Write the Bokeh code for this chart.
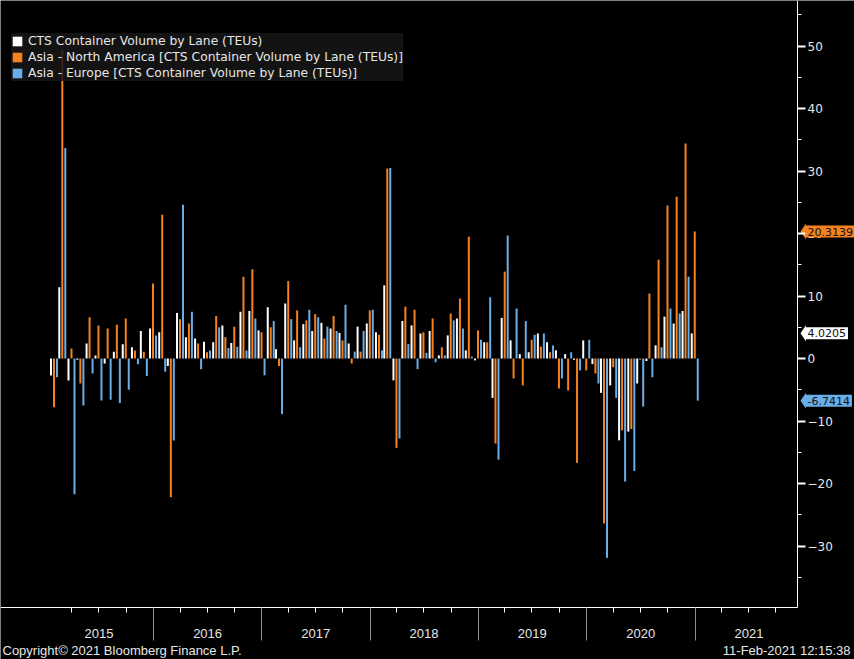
import pandas as pd
from bokeh.plotting import figure
from bokeh.models import (LinearAxis, FixedTicker, Legend, LegendItem, Label,
                          Range1d, ColumnDataSource, CustomJSTickFormatter)
from bokeh.transform import dodge
from bokeh.embed import file_html
from bokeh.resources import INLINE

# ---------------- data ----------------
months = list(pd.date_range("2015-01-01", periods=72, freq="MS") + pd.offsets.MonthEnd(0))

cts_total = [-2.7, 11.4, -3.5, -0.2, 2.4, 0.5, -0.8, 1.1, 2.3, 1.8, 4.4, 4.8,
             4.2, -1.2, 7.3, 3.4, 3.2, 2.7, 2.6, 5.3, 2.5, 7.5, 7.6, 4.5,
             8.2, 1.5, 8.8, 2.9, 5.5, 4.4, 5.7, 4.8, 4.1, 2.4, 5.1, 5.6,
             4.2, 11.7, -3.5, 6.0, 5.3, 4.0, 4.4, 0.5, 3.7, 6.4, 1.3, -0.3,
             2.6, -6.3, 6.5, 2.9, 0.7, 1.0, 4.0, 2.6, 1.3, 0.7, -0.2, 2.9,
             -0.9, -5.5, -4.3, -13.1, -11.7, -4.0, -0.4, 2.1, 6.7, 5.6, 7.6, 4.0205]

asia_na = [-7.8, 49.4, 1.6, -4.0, 6.6, 5.3, 4.8, 5.4, 6.4, 1.3, 1.1, 12.0,
           23.0, -22.2, 6.3, 5.6, 2.4, 1.0, 6.8, 3.4, 5.1, 13.1, 14.3, 4.2,
           5.0, -1.2, 12.4, 7.7, 6.1, 7.1, 3.2, 6.8, 2.9, -0.8, 1.1, 7.7,
           3.8, 30.4, -14.3, 8.3, 7.8, 4.2, 6.4, 1.8, 7.2, 9.6, 19.5, 4.5,
           2.6, -13.6, 13.9, -3.2, -4.3, 3.0, 1.9, 1.0, -4.8, -5.1, -16.7, -1.9,
           -2.4, -26.4, -1.4, -11.5, -11.3, -0.2, 10.4, 15.8, 24.5, 25.9, 34.4, 20.3139]

asia_eu = [-3.0, 33.7, -21.7, -7.5, -2.4, -6.7, -6.6, -7.1, -5.0, -0.9, -2.8, 3.7,
           -2.1, -13.1, 24.6, 7.5, -1.7, 1.3, 5.0, 1.7, 1.9, 1.3, 6.4, -2.7,
           6.0, -8.9, 6.3, 1.8, 7.8, 6.6, 5.1, 4.4, 8.6, 1.1, 4.4, 7.8,
           1.3, 30.5, -12.8, 2.3, -1.7, 0.9, -0.6, 0.5, 6.1, 4.8, 0.3, 3.0,
           9.8, -16.2, 19.7, 8.0, 6.0, 3.8, 4.0, 2.1, -3.2, 1.0, -1.9, 3.0,
           -4.0, -31.9, -6.3, -19.7, -18.0, -7.7, -3.0, 1.8, 8.0, 7.2, 13.1, -6.7414]

series_names = ["CTS Container Volume by Lane (TEUs)",
                "Asia - North America [CTS Container Volume by Lane (TEUs)]",
                "Asia - Europe [CTS Container Volume by Lane (TEUs)]"]

years = ["2015", "2016", "2017", "2018", "2019", "2020", "2021"]
y_ticks = [-30, -20, -10, 0, 10, 20, 30, 40, 50]
y_minor = [-35, -25, -15, -5, 5, 15, 25, 35, 45, 55]
copyright_text = "Copyright\u00a9 2021 Bloomberg Finance L.P."
stamp_text = "11-Feb-2021 12:15:38"

# ---------------- style / geometry ----------------
WHITE = "#ffffff"
ORANGE = "#f5821f"
BLUE = "#69aee9"
TEXT = "#e6e6e6"
W, H = 854, 659
DAY_MS = 86400000.0
PX = 365.25 * DAY_MS / 108.3      # time per screen pixel
UNIT_PX = 6.25                     # screen pixels per value unit


def ms(t):
    return pd.Timestamp(t).value / 1e6


x_start = ms("2015-01-01") - 44.6 * PX
x_end = x_start + W * PX
x_axis_pos = x_start + 797 * PX          # where the value axis sits
y_top = 358 / UNIT_PX
y_bottom = -(H - 358) / UNIT_PX
y_axis_pos = -(607 - 358) / UNIT_PX      # where the time axis sits

p = figure(width=W, height=H,
           x_range=Range1d(x_start, x_end), y_range=Range1d(y_bottom, y_top),
           output_backend="svg", toolbar_location=None,
           x_axis_location=None, y_axis_location=None, min_border=0)
p.background_fill_color = "black"
p.border_fill_color = "black"
p.outline_line_color = None
p.xgrid.visible = False
p.ygrid.visible = False

src = ColumnDataSource(dict(month=months, cts=cts_total, na=asia_na, eu=asia_eu))
bw = 2.0 * PX
off = 3.0 * PX
r_cts = p.vbar(x=dodge("month", -off), top="cts", bottom=0, width=bw,
               fill_color=WHITE, line_color=None, source=src)
r_na = p.vbar(x=dodge("month", 0.0), top="na", bottom=0, width=bw,
              fill_color=ORANGE, line_color=None, source=src)
r_eu = p.vbar(x=dodge("month", off), top="eu", bottom=0, width=bw,
              fill_color=BLUE, line_color=None, source=src)

# right value axis (inside the frame at a fixed place)
yax = LinearAxis(ticker=FixedTicker(ticks=y_ticks, minor_ticks=y_minor),
                 fixed_location=x_axis_pos, bounds=(y_axis_pos, y_top))
yax.axis_line_color = WHITE
yax.major_tick_line_color = WHITE
yax.major_tick_line_width = 2
yax.major_tick_out = 8
yax.major_tick_in = 0
yax.minor_tick_line_color = WHITE
yax.minor_tick_out = 4
yax.minor_tick_in = 0
yax.major_label_standoff = 2
yax.major_label_text_color = TEXT
yax.major_label_text_font = "DejaVu Sans"
yax.major_label_text_font_size = "12px"
p.add_layout(yax, "right")

# bottom time axis: year separators + quarter ticks
year_bounds = [ms(f"{y}-01-01") for y in years[1:]]
quarters = [ms(t) for t in pd.date_range("2015-04-01", "2021-10-01", freq="QS")
            if t.month != 1]
xax = LinearAxis(ticker=FixedTicker(ticks=year_bounds, minor_ticks=quarters),
                 formatter=CustomJSTickFormatter(code="return ''"),
                 fixed_location=y_axis_pos, bounds=(x_start, x_axis_pos))
xax.axis_line_color = WHITE
xax.major_tick_line_color = "#8c8c8c"
xax.major_tick_out = 33
xax.major_tick_in = 0
xax.minor_tick_line_color = WHITE
xax.minor_tick_out = 5
xax.minor_tick_in = 0
xax.major_label_standoff = 0
xax.major_label_text_font_size = "1px"
p.add_layout(xax, "below")

for y in years:
    p.add_layout(Label(x=ms(f"{y}-07-02"), y=-(633 - 358) / UNIT_PX, text=y,
                       text_align="center", text_baseline="middle",
                       text_color=TEXT, text_font="Liberation Sans",
                       text_font_size="13px"))

p.add_layout(Label(x=2, x_units="screen", y=-(650 - 358) / UNIT_PX, text=copyright_text,
                   text_align="left", text_baseline="middle",
                   text_color=TEXT, text_font="Liberation Sans",
                   text_font_size="13px"))
p.add_layout(Label(x=850, x_units="screen", y=-(650 - 358) / UNIT_PX, text=stamp_text,
                   text_align="right", text_baseline="middle",
                   text_color=TEXT, text_font="Liberation Sans",
                   text_font_size="13px"))

# last-value tags: pointed left end + boxed value
tags = [(asia_na[-1], ORANGE), (cts_total[-1], WHITE), (asia_eu[-1], BLUE)]
half = 8.0 / UNIT_PX
tip_x, box_x = x_start + 800 * PX, x_start + 805.5 * PX
p.patches(xs=[[tip_x, box_x, box_x] for _ in tags],
          ys=[[v, v + half, v - half] for v, _ in tags],
          fill_color=[c for _, c in tags], line_color=None)
for v, bg in tags:
    p.add_layout(Label(x=805, x_units="screen", y=v, text=f"{v:.4f}",
                       text_align="left", text_baseline="middle",
                       text_color="#111111", text_font="DejaVu Sans",
                       text_font_size="11px", background_fill_color=bg,
                       padding=2))

legend = Legend(items=[LegendItem(label=series_names[0], renderers=[r_cts]),
                       LegendItem(label=series_names[1], renderers=[r_na]),
                       LegendItem(label=series_names[2], renderers=[r_eu])],
                location=(11, 578))
legend.background_fill_color = "#161616"
legend.background_fill_alpha = 0.85
legend.border_line_color = None
legend.label_text_color = TEXT
legend.label_text_font = "DejaVu Sans"
legend.label_text_font_size = "12.3px"
legend.label_height = 16
legend.glyph_height = 12
legend.glyph_width = 12
legend.label_standoff = 5
legend.padding = 7
legend.spacing = 0
legend.margin = 0
p.add_layout(legend)

html = file_html(p, INLINE)
html = html.replace("<body>", '<body style="background-color:#000000;">', 1)
open("out.html", "w").write(html)
